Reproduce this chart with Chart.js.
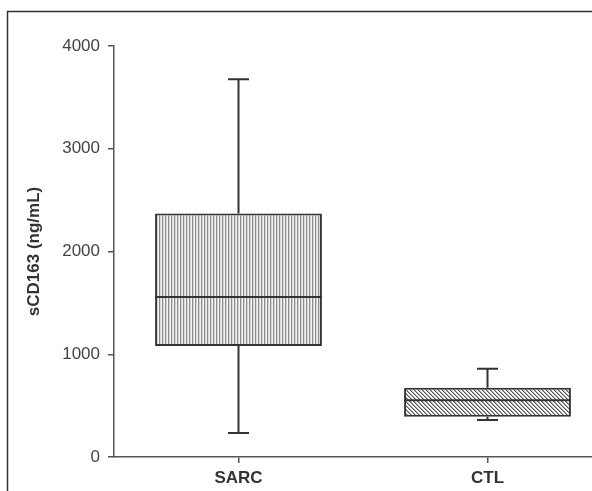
<!DOCTYPE html>
<html>
<head>
<meta charset="utf-8">
<script src="https://cdn.jsdelivr.net/npm/chart.js@4"></script>
<style>
  html, body { margin: 0; padding: 0; background: #fff; overflow: hidden; }
  canvas { display: block; }
</style>
</head>
<body>
<canvas id="chart" width="612" height="491"></canvas>
<script>
// box plot values (ng/mL)
const categories = ['SARC', 'CTL'];
const whiskerMin = [234, 360];
const q1 = [1080, 392];
const median = [1557, 552];
const q3 = [2371, 674];
const whiskerMax = [3676, 859];
const yTicks = [0, 1000, 2000, 3000, 4000];

const ink = '#333';

function stripePattern() {
  const c = document.createElement('canvas');
  c.width = 3; c.height = 1;
  const g = c.getContext('2d');
  ['#8a8a8a', '#d6d6d6', '#f4f4f4'].forEach((col, i) => {
    g.fillStyle = col;
    g.fillRect(i, 0, 1, 1);
  });
  return g.createPattern(c, 'repeat');
}

function hatchPattern() {
  const c = document.createElement('canvas');
  c.width = 4; c.height = 4;
  const g = c.getContext('2d');
  for (let x = 0; x < 4; x++) {
    for (let y = 0; y < 4; y++) {
      const d = ((x - y) % 4 + 4) % 4;
      g.fillStyle = d === 0 ? '#555' : d === 1 ? '#aaa' : '#f6f6f6';
      g.fillRect(x, y, 1, 1);
    }
  }
  return g.createPattern(c, 'repeat');
}

const ctx = document.getElementById('chart').getContext('2d');

const framePlugin = {
  id: 'frame',
  beforeDraw(chart) {
    const c = chart.ctx;
    c.save();
    c.fillStyle = '#fff';
    c.fillRect(0, 0, chart.width, chart.height);
    c.strokeStyle = '#333';
    c.lineWidth = 1.5;
    c.strokeRect(7.5, 11.5, 800, 600);
    c.restore();
  }
};

const whiskerPlugin = {
  id: 'whiskers',
  afterDatasetsDraw(chart) {
    const c = chart.ctx;
    const x = chart.scales.x;
    const y = chart.scales.y;
    const meta = chart.getDatasetMeta(0);
    c.save();
    c.strokeStyle = ink;
    c.lineWidth = 2;
    c.lineCap = 'butt';
    categories.forEach((cat, i) => {
      const cx = x.getPixelForValue(i);
      const half = meta.data[i].width / 2;
      const cap = 10.5;
      c.beginPath();
      // upper whisker
      c.moveTo(cx, y.getPixelForValue(q3[i]));
      c.lineTo(cx, y.getPixelForValue(whiskerMax[i]));
      c.moveTo(cx - cap, y.getPixelForValue(whiskerMax[i]));
      c.lineTo(cx + cap, y.getPixelForValue(whiskerMax[i]));
      // lower whisker
      c.moveTo(cx, y.getPixelForValue(q1[i]));
      c.lineTo(cx, y.getPixelForValue(whiskerMin[i]));
      c.moveTo(cx - cap, y.getPixelForValue(whiskerMin[i]));
      c.lineTo(cx + cap, y.getPixelForValue(whiskerMin[i]));
      // median
      c.moveTo(cx - half, y.getPixelForValue(median[i]));
      c.lineTo(cx + half, y.getPixelForValue(median[i]));
      c.stroke();
    });
    c.restore();
  }
};

new Chart(ctx, {
  type: 'bar',
  data: {
    labels: categories,
    datasets: [{
      data: categories.map((c, i) => [q1[i], q3[i]]),
      backgroundColor: [stripePattern(), hatchPattern()],
      borderColor: ink,
      borderWidth: 2,
      borderSkipped: false,
      barPercentage: 0.67,
      categoryPercentage: 1
    }]
  },
  options: {
    responsive: false,
    animation: false,
    layout: { padding: { top: 46, left: 0, right: 0, bottom: 0 } },
    plugins: {
      legend: { display: false },
      tooltip: { enabled: false }
    },
    scales: {
      x: {
        offset: true,
        afterFit(scale) { scale.height = 34; },
        grid: {
          offset: false,
          drawOnChartArea: false,
          drawTicks: true,
          tickLength: 6,
          tickColor: '#555',
          lineWidth: 1.5
        },
        border: { color: '#555', width: 1.5 },
        ticks: {
          color: '#333',
          padding: 5,
          font: { family: 'Liberation Sans, Arial, sans-serif', size: 17, weight: 'bold' }
        }
      },
      y: {
        min: 0,
        max: 4000,
        afterFit(scale) { scale.width = 114; },
        afterBuildTicks(scale) { scale.ticks = yTicks.map(v => ({ value: v })); },
        grid: {
          drawOnChartArea: false,
          drawTicks: true,
          tickLength: 6,
          tickColor: '#555',
          lineWidth: 1.5
        },
        border: { color: '#555', width: 1.5 },
        ticks: {
          color: '#444',
          padding: 8,
          callback: v => String(v),
          font: { family: 'Liberation Sans, Arial, sans-serif', size: 17 }
        },
        title: {
          display: true,
          text: 'sCD163 (ng/mL)',
          color: '#333',
          padding: { top: 24, bottom: 0 },
          font: { family: 'Liberation Sans, Arial, sans-serif', size: 17, weight: 'bold' }
        }
      }
    }
  },
  plugins: [framePlugin, whiskerPlugin]
});
</script>
</body>
</html>
